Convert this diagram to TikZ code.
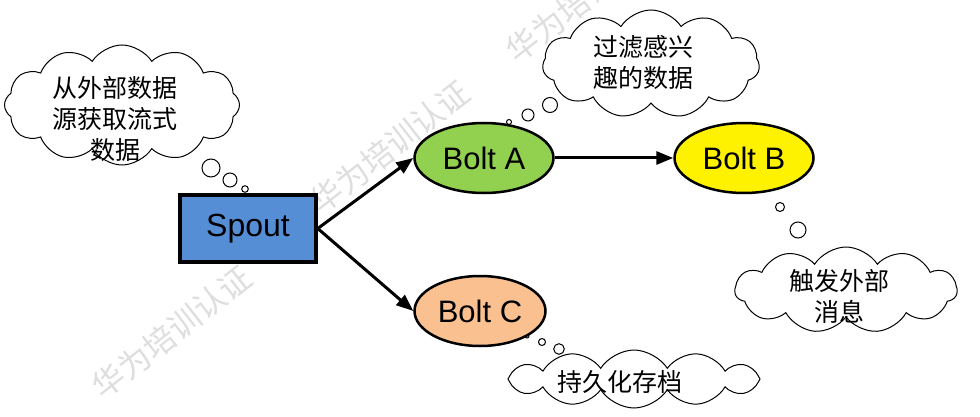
\documentclass[tikz,border=0pt]{standalone}
\usepackage{fontspec}
\setmainfont{Liberation Sans}
\newfontfamily\cjk{Noto Sans CJK SC}
\usetikzlibrary{arrows.meta,shapes.geometric,shapes.symbols}
\tikzset{>={Triangle[length=17pt,width=13pt]}}

\begin{document}
\begin{tikzpicture}[x=1pt,y=-1pt,
  bolt/.style={ellipse,draw,line width=2.5pt,inner sep=0pt,
    minimum width=139pt,minimum height=70pt,
    font=\fontsize{31}{36}\selectfont},
  thought/.style={cloud,draw,line width=1pt,fill=white,
    cloud ignores aspect,cloud puffs=11,cloud puff arc=115},
  note/.style={align=center,inner sep=0pt,
    font=\cjk\fontsize{25}{31}\selectfont},
  bubble/.style={draw,line width=1pt,fill=white},
  wmtext/.style={rotate=38,text=black!13,inner sep=0pt,
    font=\cjk\fontsize{32}{32}\selectfont},
  flow/.style={->,line width=3pt}]
\useasboundingbox[fill=white] (0,0) rectangle (980,417);

% watermark
\node[wmtext] (wm1) at (172,332) {华为培训认证};
\node[wmtext] (wm2) at (390,147) {华为培训认证};
\node[wmtext] (wm3) at (586,-4)  {华为培训认证};

% clouds
\node[thought,minimum width=235pt,minimum height=120pt,cloud puffs=12]
  (srcCloud) at (122,105) {};
\node[thought,minimum width=217pt,minimum height=108pt]
  (filterCloud) at (651,64) {};
\node[thought,minimum width=222pt,minimum height=86pt]
  (msgCloud) at (846,290) {};
\node[thought,minimum width=252pt,minimum height=58pt,cloud puffs=12]
  (saveCloud) at (634,379) {};

\node[note] (srcTxt)    at (115,119) {从外部数据\\源获取流式\\数据};
\node[note] (filterTxt) at (643,63)  {过滤感兴\\趣的数据};
\node[note] (msgTxt)    at (839,296) {触发外部\\消息};
\node[note] (saveTxt)   at (620,382) {持久化存档};

% bubbles
\draw[bubble] (211,168) circle (9);
\draw[bubble] (230,180) circle (7);
\draw[bubble] (245,189) circle (3.3);
\draw[bubble] (550,105) circle (7.5);
\draw[bubble] (528,115) circle (6);
\draw[bubble] (509,122) circle (2.5);
\draw[bubble] (764,187) circle (2.5);
\draw[bubble] (780,207) circle (4.5);
\draw[bubble] (798,230) circle (8);
\draw[bubble] (527,336) circle (2);
\draw[bubble] (542,342) circle (3.5);
\draw[bubble] (559,349) circle (5.3);

% topology
\node[draw,line width=3.5pt,fill={rgb,255:red,85;green,142;blue,213},
  minimum width=136pt,minimum height=67pt,
  font=\fontsize{32}{38}\selectfont] (spout) at (248,228.5) {Spout};
\node[bolt,fill={rgb,255:red,146;green,208;blue,80}] (boltA) at (484,158) {Bolt A};
\node[bolt,fill=yellow] (boltB) at (744,158) {Bolt B};
\node[bolt,fill={rgb,255:red,250;green,192;blue,144},minimum width=131pt]
  (boltC) at (480,311) {Bolt C};

\draw[flow] (spout.east) -- (boltA.west);
\draw[flow] (spout.east) -- (boltC.west);
\draw[flow] (boltA.east) -- (boltB.west);
\end{tikzpicture}
\end{document}
